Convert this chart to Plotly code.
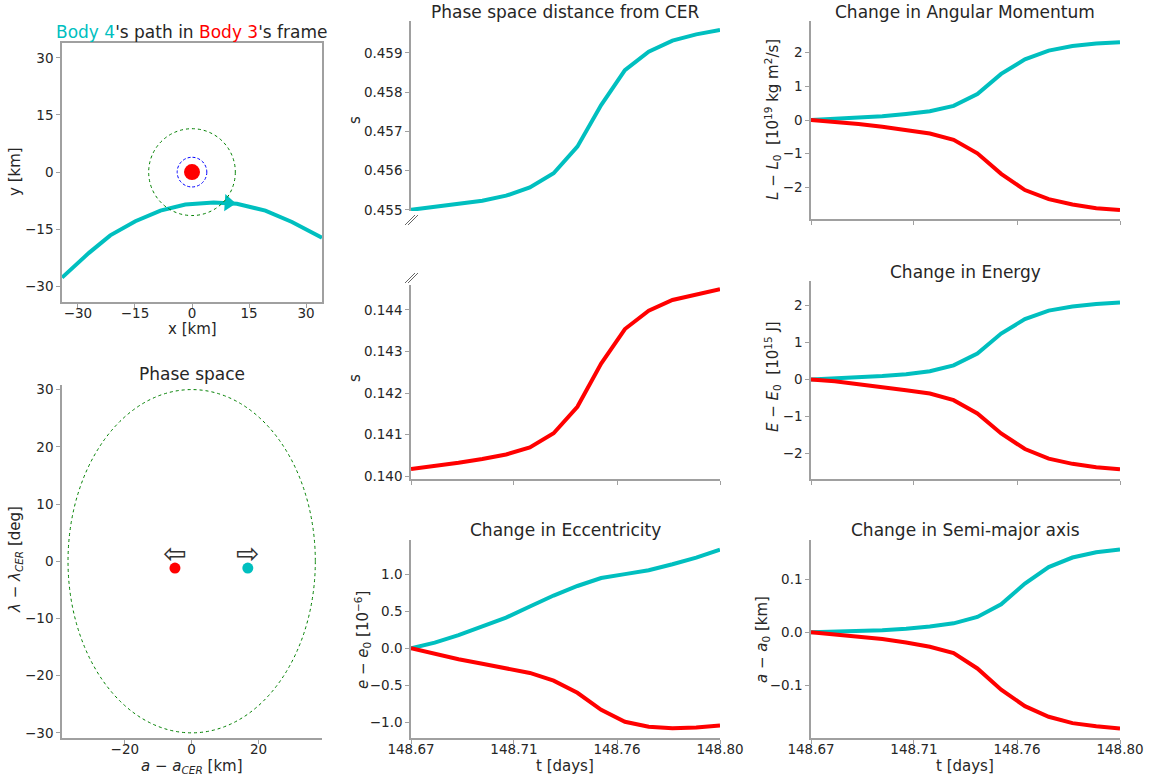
import plotly.graph_objects as go

W, H = 1155, 779
CYAN = "#00BFBF"
RED = "#FF0000"
AXIS = "#a0a0a0"
TEXT = "#262626"
FONT = "DejaVu Sans"

# ---- time series (t in days) ----
t_days = [148.67, 148.68, 148.69, 148.70, 148.71, 148.72, 148.73,
          148.74, 148.75, 148.76, 148.77, 148.78, 148.79, 148.80]
t_tickvals = [148.67, 148.71333, 148.75667, 148.80]
t_ticktext = ["148.67", "148.71", "148.76", "148.80"]

s_body4 = [0.45500, 0.45507, 0.45514, 0.45523, 0.45536, 0.45557, 0.45593,
           0.45661, 0.45767, 0.45856, 0.45903, 0.45931, 0.45947, 0.45958]
s_body3 = [0.14017, 0.14024, 0.14032, 0.14041, 0.14052, 0.14069, 0.14103,
           0.14167, 0.14271, 0.14354, 0.14398, 0.14424, 0.14438, 0.14450]

de_body4 = [0.0, 0.076, 0.178, 0.289, 0.413, 0.564, 0.711,
            0.840, 0.947, 1.000, 1.053, 1.133, 1.222, 1.329]
de_body3 = [0.0, -0.080, -0.147, -0.209, -0.267, -0.333, -0.436,
            -0.600, -0.831, -0.991, -1.058, -1.080, -1.067, -1.040]

dL_body4 = [0.0, 0.03, 0.06, 0.11, 0.18, 0.26, 0.42,
            0.77, 1.37, 1.80, 2.06, 2.20, 2.27, 2.31]
dL_body3 = [0.0, -0.05, -0.12, -0.20, -0.29, -0.40, -0.59,
            -0.99, -1.60, -2.08, -2.35, -2.51, -2.62, -2.67]

dE_body4 = [0.0, 0.03, 0.05, 0.09, 0.14, 0.22, 0.38,
            0.70, 1.24, 1.63, 1.86, 1.97, 2.04, 2.08]
dE_body3 = [0.0, -0.05, -0.13, -0.20, -0.29, -0.38, -0.56,
            -0.92, -1.46, -1.88, -2.14, -2.28, -2.37, -2.43]

da_body4 = [0.0, 0.001, 0.002, 0.004, 0.007, 0.011, 0.017,
            0.029, 0.053, 0.092, 0.123, 0.141, 0.151, 0.156]
da_body3 = [0.0, -0.004, -0.008, -0.0125, -0.019, -0.027, -0.039,
            -0.068, -0.108, -0.139, -0.159, -0.171, -0.177, -0.181]

# ---- Body 4 path relative to Body 3 (km) ----
path_x = [-34.2, -27.1, -21.5, -14.9, -8.3, -1.75, 5.7, 11.8, 19.3, 26.3, 34.2]
path_y = [-27.7, -21.2, -16.6, -12.9, -10.1, -8.5, -8.0, -8.3, -10.1, -13.1, -17.2]
path_arrow = (9.6, -8.1)
hill_radius = 11.4      # green dotted circle
body_radius = 3.9       # blue dashed circle

# ---- phase space ----
cer_half_width = 37.0   # km
cer_half_height = 30.0  # deg
body3_phase = (-5.0, -1.2)
body4_phase = (16.8, -1.2)
arrow_offset = 2.5

def dom_x(a, b):
    return [a / W, b / W]

def dom_y(top, bottom):
    return [1 - bottom / H, 1 - top / H]

def px(x):
    return x / W

def py(y):
    return 1 - y / H

base_axis = dict(showline=True, linecolor=AXIS, linewidth=1.5, ticks="outside",
                 ticklen=4, tickwidth=1.2, tickcolor=AXIS, showgrid=False,
                 zeroline=False, automargin=False,
                 tickfont=dict(size=13.5, color=TEXT, family=FONT))

fig = go.Figure()
layout = {}

# Panel layout: name -> (x pixel span, y pixel span)
panels = {
    "A": ([62, 322], [43, 302]),
    "B": ([62, 322], [385, 738]),
    "C": ([411, 720], [21, 211]),
    "D": ([411, 720], [285, 479]),
    "E": ([411, 720], [540, 738]),
    "F": ([811, 1120], [21, 219]),
    "G": ([811, 1120], [281, 479]),
    "H": ([811, 1120], [540, 738]),
}
order = ["A", "B", "C", "D", "E", "F", "G", "H"]
ax_id = {k: i + 1 for i, k in enumerate(order)}

def axnames(k):
    i = ax_id[k]
    s = "" if i == 1 else str(i)
    return "x" + s, "y" + s, "xaxis" + s, "yaxis" + s

for k in order:
    (x0, x1), (y0, y1) = panels[k]
    xr, yr, xa, ya = axnames(k)
    layout[xa] = dict(base_axis, domain=dom_x(x0, x1), anchor=yr, ticklabelstandoff=-6)
    layout[ya] = dict(base_axis, domain=dom_y(y0, y1), anchor=xr)

# Panel A: path in Body 3's frame
xr, yr, xa, ya = axnames("A")
layout[xa].update(range=[-34.2, 34.2], tickvals=[-30, -15, 0, 15, 30], mirror=True)
layout[ya].update(range=[-34.1, 33.9], tickvals=[-30, -15, 0, 15, 30], mirror=True)
fig.add_trace(go.Scatter(x=path_x, y=path_y, mode="lines", line=dict(color=CYAN, width=4),
                         xaxis=xr, yaxis=yr, showlegend=False))
fig.add_trace(go.Scatter(x=[path_arrow[0]], y=[path_arrow[1]], mode="markers",
                         marker=dict(symbol="triangle-right", size=15, color=CYAN, angle=4),
                         xaxis=xr, yaxis=yr, showlegend=False))
fig.add_trace(go.Scatter(x=[0], y=[0], mode="markers",
                         marker=dict(size=16, color=RED),
                         xaxis=xr, yaxis=yr, showlegend=False))
shapes = []
shapes.append(dict(type="circle", xref=xr, yref=yr, x0=-hill_radius, x1=hill_radius,
                   y0=-hill_radius, y1=hill_radius, line=dict(color="#008000", width=1, dash="dot")))
shapes.append(dict(type="circle", xref=xr, yref=yr, x0=-body_radius, x1=body_radius,
                   y0=-body_radius, y1=body_radius, line=dict(color="#0000FF", width=1, dash="3px,2px")))

# Panel B: phase space
xr, yr, xa, ya = axnames("B")
layout[xa].update(range=[-38.8, 39.0], tickvals=[-20, 0, 20])
layout[ya].update(range=[-30.9, 30.8], tickvals=[-30, -20, -10, 0, 10, 20, 30])
shapes.append(dict(type="circle", xref=xr, yref=yr, x0=-cer_half_width, x1=cer_half_width,
                   y0=-cer_half_height, y1=cer_half_height,
                   line=dict(color="#008000", width=1, dash="dot")))
fig.add_trace(go.Scatter(x=[body3_phase[0], body4_phase[0]], y=[body3_phase[1], body4_phase[1]],
                         mode="markers", marker=dict(size=11, color=[RED, CYAN]),
                         xaxis=xr, yaxis=yr, showlegend=False))

annotations = []
for (bx, by), glyph in ((body3_phase, "\u21e6"), (body4_phase, "\u21e8")):
    annotations.append(dict(x=bx, y=by + arrow_offset, xref=xr, yref=yr, text=glyph,
                            showarrow=False, font=dict(size=28, color="#333333", family=FONT)))

# Time-series panels
series = {
    "C": ([s_body4], [CYAN], [0.45497, 0.45981], [0.455, 0.456, 0.457, 0.458, 0.459], ".3f"),
    "D": ([s_body3], [RED], [0.13993, 0.1446], [0.140, 0.141, 0.142, 0.143, 0.144], ".3f"),
    "E": ([de_body4, de_body3], [CYAN, RED], [-1.21, 1.46], [-1.0, -0.5, 0.0, 0.5, 1.0], ".1f"),
    "F": ([dL_body4, dL_body3], [CYAN, RED], [-2.94, 2.94], [-2, -1, 0, 1, 2], None),
    "G": ([dE_body4, dE_body3], [CYAN, RED], [-2.69, 2.66], [-2, -1, 0, 1, 2], None),
    "H": ([da_body4, da_body3], [CYAN, RED], [-0.199, 0.174], [-0.1, 0.0, 0.1], ".1f"),
}
for k, (ys, cols, yrange, yticks, fmt) in series.items():
    xr, yr, xa, ya = axnames(k)
    layout[xa].update(range=[148.67, 148.80], tickvals=t_tickvals, ticktext=t_ticktext)
    layout[ya].update(range=yrange, tickvals=yticks)
    if fmt:
        layout[ya].update(tickformat=fmt)
    if k == "C":
        layout[xa].update(showline=False, ticks="", showticklabels=False)
    elif k in ("D", "F", "G"):
        layout[xa].update(showticklabels=False)
    for yv, c in zip(ys, cols):
        fig.add_trace(go.Scatter(x=t_days, y=yv, mode="lines", line=dict(color=c, width=4),
                                 xaxis=xr, yaxis=yr, showlegend=False))

# Broken-axis marks between the two distance panels
for (xa0, ya0) in ((405, 226), (405, 284)):
    for d in (0, 3):
        shapes.append(dict(type="line", xref="paper", yref="paper",
                           x0=px(xa0 + d), y0=py(ya0 - 1),
                           x1=px(xa0 + d + 10), y1=py(ya0 - 11),
                           line=dict(color="#666666", width=1)))

def label(text, x, y, size=16, angle=0):
    annotations.append(dict(text=text, x=px(x), y=py(y), xref="paper", yref="paper",
                            showarrow=False, textangle=angle, xanchor="center", yanchor="middle",
                            font=dict(size=size, color=TEXT, family=FONT)))

# Titles
label("<span style='color:%s'>Body 4</span>'s path in <span style='color:%s'>Body 3</span>'s frame"
      % (CYAN, RED), 192, 32, 17)
label("Phase space", 192, 374, 17)
label("Phase space distance from CER", 565, 12, 17)
label("Change in Eccentricity", 565, 530, 17)
label("Change in Angular Momentum", 965, 12, 17)
label("Change in Energy", 965, 272, 17)
label("Change in Semi-major axis", 965, 530, 17)

# Axis labels
label("x [km]", 192, 329, 15)
label("y [km]", 15, 172, 15, -90)
label("<i>a</i> − <i>a</i><sub><i>CER</i></sub> [km]", 192, 766, 15)
label("<i>λ</i> − <i>λ</i><sub><i>CER</i></sub> [deg]", 15, 560, 15, -90)
label("s", 355, 120, 15, -90)
label("s", 355, 378, 15, -90)
label("<i>e</i> − <i>e</i><sub>0</sub> [10<sup>−6</sup>]", 362, 640, 15, -90)
label("t [days]", 565, 766, 15)
label("<i>L</i> − <i>L</i><sub>0</sub>  [10<sup>19</sup> kg m<sup>2</sup>/s]", 772, 120, 15, -90)
label("<i>E</i> − <i>E</i><sub>0</sub>  [10<sup>15</sup> J]", 772, 377, 15, -90)
label("<i>a</i> − <i>a</i><sub>0</sub> [km]", 762, 640, 15, -90)
label("t [days]", 965, 766, 15)

fig.update_layout(**layout)
fig.update_layout(width=W, height=H, margin=dict(l=0, r=0, t=0, b=0),
                  paper_bgcolor="white", plot_bgcolor="white",
                  font=dict(family=FONT, color=TEXT),
                  shapes=shapes, annotations=annotations, showlegend=False)

fig.write_html("out.html")
